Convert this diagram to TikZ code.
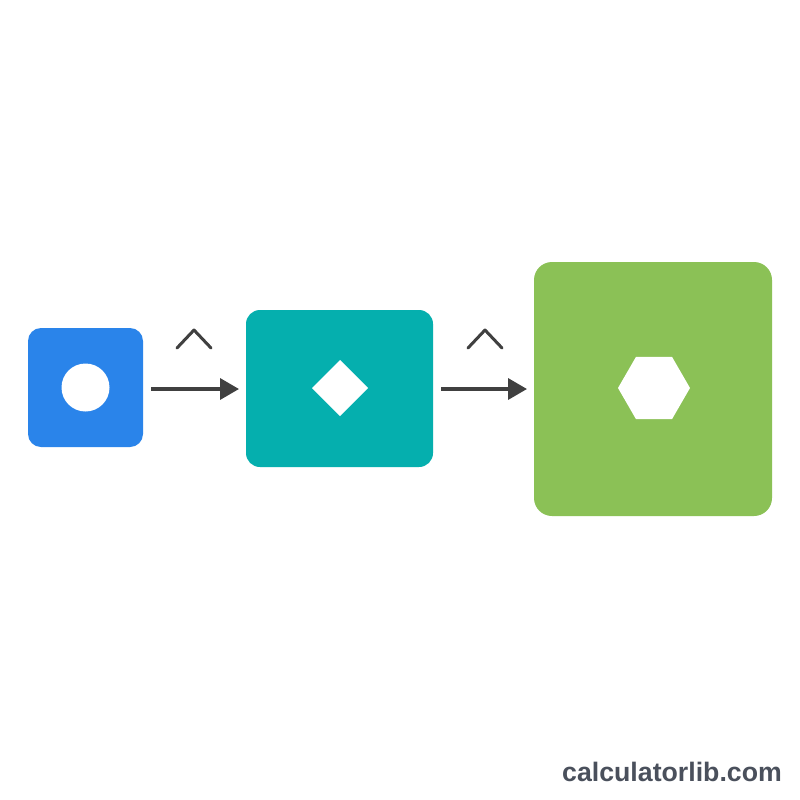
\documentclass[tikz,border=0pt]{standalone}
\usepackage{fontspec}
\setmainfont{Liberation Sans}
\usetikzlibrary{shapes.geometric,arrows.meta}
\definecolor{cblue}{HTML}{2A84EA}
\definecolor{cteal}{HTML}{05AFAE}
\definecolor{cgreen}{HTML}{8BC156}
\definecolor{carrow}{HTML}{404040}
\definecolor{ctext}{HTML}{4A505C}
\begin{document}
\begin{tikzpicture}[x=1pt,y=-1pt,
  box/.style={inner sep=0pt,outer sep=0pt,draw=none},
  glyph/.style={fill=white,draw=none,inner sep=0pt,outer sep=0pt},
  flow/.style={draw=carrow,line width=3.5pt,-{Triangle[length=19pt,width=21pt]},shorten <=8pt,shorten >=7pt},
  caret/.style={draw=carrow,line width=3pt,line cap=round,line join=round}]
\useasboundingbox[fill=white] (0,0) rectangle (800,800);
\node[box,fill=cblue,rounded corners=13pt,minimum width=115pt,minimum height=119pt] (b1) at (85.5,387.5) {};
\node[box,fill=cteal,rounded corners=14pt,minimum width=187pt,minimum height=157pt] (b2) at (339.5,388.5) {};
\node[box,fill=cgreen,rounded corners=18pt,minimum width=238pt,minimum height=254pt] (b3) at (653,389) {};
\node[glyph,circle,minimum size=48pt] (g1) at (b1.center) {};
\node[glyph,diamond,minimum width=56pt,minimum height=56pt] (g2) at (340,388) {};
\node[glyph,regular polygon,regular polygon sides=6,minimum size=72pt] (g3) at (654,388) {};
\draw[flow] (b1.east |- 0,389) -- (b2.west |- 0,389);
\draw[flow] (b2.east |- 0,389) -- (b3.west |- 0,389);
\coordinate (c1) at (194,330);
\coordinate (c2) at (485,330);
\draw[caret] ([shift={(-17,18)}]c1) -- (c1) -- ([shift={(17,18)}]c1);
\draw[caret] ([shift={(-17,18)}]c2) -- (c2) -- ([shift={(17,18)}]c2);
\node[anchor=base east,inner sep=0pt,text=ctext,font=\fontsize{26.7pt}{30pt}\selectfont\bfseries] (wm) at (782,781) {calculatorlib.com};
\end{tikzpicture}
\end{document}
